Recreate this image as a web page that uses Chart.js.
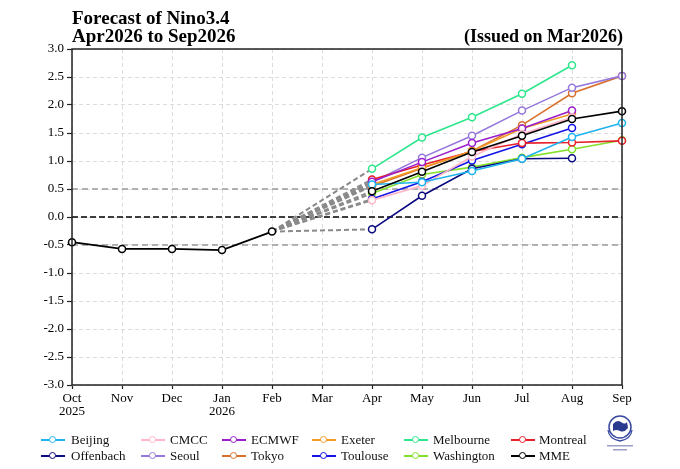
<!DOCTYPE html>
<html>
<head>
<meta charset="utf-8">
<script src="https://cdn.jsdelivr.net/npm/chart.js@4.4.1/dist/chart.umd.min.js"></script>
<style>
  body { margin: 0; background: #fff; }
  #wrap { position: relative; width: 680px; height: 469px; overflow: hidden; }
  #chart { position: absolute; left: 0; top: 0; }
  .title { position: absolute; font-family: "Liberation Serif", serif; font-weight: bold;
           font-size: 19px; line-height: 18px; color: #000; white-space: nowrap; }
  .lg { position: absolute; font-family: "Liberation Serif", serif; font-size: 13px;
        line-height: 14px; color: #111; white-space: nowrap; }
  .mk { position: absolute; width: 24px; height: 10px; }
  .mk .ln { position: absolute; left: 0; top: 4px; width: 24px; height: 2px; }
  .mk .dot { position: absolute; left: 8px; top: 1px; width: 5px; height: 5px;
             border-radius: 50%; background: #fff; border: 1.6px solid; }
</style>
</head>
<body>
<div id="wrap">
  <canvas id="chart" width="680" height="469"></canvas>
  <div class="title" style="left:72px; top:9px;">Forecast of Nino3.4</div>
  <div class="title" style="left:72px; top:27px;">Apr2026 to Sep2026</div>
  <div class="title" style="right:57px; top:27px; font-size:18px;">(Issued on Mar2026)</div>
  <div id="legend"></div>
  <svg style="position:absolute; left:603px; top:410px;" width="34" height="46" viewBox="0 0 34 46">
    <circle cx="17" cy="17" r="11" fill="#fff" stroke="#3a4aa0" stroke-width="1.5"/>
    <path d="M10 14 q4 -5 8 -2 q4 3 6 0 l1 6 q-4 5 -8 3 q-4 -2 -7 0 z" fill="#2a3a90"/>
    <path d="M5 20 q1 9 12 11 M29 20 q-1 9 -12 11" fill="none" stroke="#3a4aa0" stroke-width="1.3"/>
    <rect x="4" y="35" width="26" height="1.5" fill="#9aa0c8"/>
    <rect x="10" y="39" width="14" height="1.5" fill="#9aa0c8"/>
  </svg>
</div>
<script>
// months on the x axis
const months = ['Oct', 'Nov', 'Dec', 'Jan', 'Feb', 'Mar', 'Apr', 'May', 'Jun', 'Jul', 'Aug', 'Sep'];
const years = ['2025', '', '', '2026', '', '', '', '', '', '', '', ''];
const yTicks = [-3.0, -2.5, -2.0, -1.5, -1.0, -0.5, 0.0, 0.5, 1.0, 1.5, 2.0, 2.5, 3.0];

// observed Oct2025..Feb2026
const observed = [-0.45, -0.57, -0.57, -0.59, -0.26];

// forecasts, starting at Apr2026
const beijing    = [0.58, 0.62, 0.82, 1.04, 1.43, 1.68];
const cmcc       = [0.30, 0.56, 1.08, 1.48, 1.78];
const ecmwf      = [0.63, 0.98, 1.32, 1.58, 1.90];
const exeter     = [0.58, 0.88, 1.18, 1.58, 1.84];
const melbourne  = [0.86, 1.42, 1.78, 2.20, 2.71];
const montreal   = [0.67, 0.93, 1.17, 1.32, 1.33, 1.36];
const offenbach  = [-0.22, 0.38, 0.86, 1.04, 1.05];
const seoul      = [0.62, 1.06, 1.45, 1.90, 2.31, 2.52];
const tokyo      = [0.55, 0.87, 1.18, 1.64, 2.21, 2.52];
const toulouse   = [0.32, 0.63, 1.01, 1.30, 1.59];
const washington = [0.42, 0.76, 0.89, 1.06, 1.21, 1.37];
const mme        = [0.46, 0.81, 1.16, 1.45, 1.75, 1.89];

const models = [
  { name: 'Beijing',    color: '#1fb4ee', data: beijing },
  { name: 'CMCC',       color: '#ffb6c8', data: cmcc },
  { name: 'ECMWF',      color: '#9a1ecb', data: ecmwf },
  { name: 'Exeter',     color: '#f39a24', data: exeter },
  { name: 'Melbourne',  color: '#2ee68c', data: melbourne },
  { name: 'Montreal',   color: '#e8202a', data: montreal },
  { name: 'Offenbach',  color: '#0b0b80', data: offenbach },
  { name: 'Seoul',      color: '#9678dc', data: seoul },
  { name: 'Tokyo',      color: '#d9712e', data: tokyo },
  { name: 'Toulouse',   color: '#1414e6', data: toulouse },
  { name: 'Washington', color: '#84e02a', data: washington },
  { name: 'MME',        color: '#000000', data: mme }
];

const legendCols = [
  { mark: 41, text: 71 }, { mark: 141, text: 170 }, { mark: 222, text: 251 },
  { mark: 312, text: 341 }, { mark: 404, text: 433 }, { mark: 511, text: 539 }
];

const aprIndex = months.indexOf('Apr');
const febIndex = months.indexOf('Feb');

function pad(values, start) {
  const out = new Array(months.length).fill(null);
  values.forEach(function (v, i) { out[start + i] = v; });
  return out;
}

const datasets = [];

datasets.push({
  label: 'Observed',
  data: pad(observed, 0),
  borderColor: '#000',
  borderWidth: 1.8,
  pointRadius: 3.5,
  pointBorderWidth: 1.5,
  pointBackgroundColor: '#fff',
  pointBorderColor: '#000',
  order: 0
});

models.forEach(function (m, i) {
  datasets.push({
    label: m.name,
    data: pad(m.data, aprIndex),
    borderColor: m.color,
    borderWidth: 1.6,
    pointRadius: 3.5,
    pointBorderWidth: 1.5,
    pointBackgroundColor: '#fff',
    pointBorderColor: m.color,
    order: m.name === 'MME' ? 1 : 2 + i
  });
  // dashed link from the last observation to the first forecast month
  const link = new Array(months.length).fill(null);
  link[febIndex] = observed[febIndex];
  link[aprIndex] = m.data[0];
  datasets.push({
    label: m.name + ' link',
    data: link,
    spanGaps: true,
    borderColor: '#8a8a8a',
    borderWidth: 2,
    borderDash: [5, 3],
    pointRadius: 0,
    order: 30 + i
  });
});

const refLines = [
  { value: 0.5, color: '#9a9a9a', dash: [6, 4] },
  { value: -0.5, color: '#9a9a9a', dash: [6, 4] },
  { value: 0.0, color: '#000', dash: [6, 3] }
];

const framePlugin = {
  id: 'frame',
  beforeDatasetsDraw(chart) {
    const ctx = chart.ctx, a = chart.chartArea, y = chart.scales.y;
    ctx.save();
    refLines.forEach(function (r) {
      const py = y.getPixelForValue(r.value);
      ctx.strokeStyle = r.color;
      ctx.lineWidth = 1.5;
      ctx.setLineDash(r.dash);
      ctx.beginPath();
      ctx.moveTo(a.left, py);
      ctx.lineTo(a.right, py);
      ctx.stroke();
    });
    ctx.restore();
  },
  afterDraw(chart) {
    const ctx = chart.ctx, a = chart.chartArea;
    ctx.save();
    ctx.strokeStyle = '#222';
    ctx.lineWidth = 1.5;
    ctx.strokeRect(a.left, a.top, a.right - a.left, a.bottom - a.top);
    ctx.restore();
  }
};

const tickFont = { family: '"Liberation Serif", serif', size: 13, lineHeight: 1.0 };

new Chart(document.getElementById('chart'), {
  type: 'line',
  data: {
    labels: months.map(function (m, i) { return years[i] ? [m, years[i]] : m; }),
    datasets: datasets
  },
  options: {
    responsive: false,
    animation: false,
    layout: { padding: { top: 49, right: 58, bottom: 50, left: 0 } },
    plugins: { legend: { display: false }, tooltip: { enabled: false } },
    scales: {
      x: {
        type: 'category',
        offset: false,
        afterFit: function (s) { s.height = 34; },
        grid: { color: '#dddddd', lineWidth: 1, offset: false, tickLength: 4,
                tickColor: '#222', tickWidth: 1.2, tickBorderDash: [] },
        border: { display: false, dash: [4, 3] },
        ticks: { color: '#000', font: tickFont, maxRotation: 0, autoSkip: false, padding: 3 }
      },
      y: {
        min: -3, max: 3,
        afterFit: function (s) { s.width = 72; },
        afterBuildTicks: function (s) { s.ticks = yTicks.map(function (v) { return { value: v }; }); },
        grid: { color: '#dddddd', lineWidth: 1, tickLength: 5,
                tickColor: '#222', tickWidth: 1.2, tickBorderDash: [] },
        border: { display: false, dash: [4, 3] },
        ticks: { color: '#000', font: tickFont, padding: 3,
                 callback: function (v) { return Number(v).toFixed(1); } }
      }
    }
  },
  plugins: [framePlugin]
});

// legend, two rows of six
const legend = document.getElementById('legend');
models.forEach(function (m, i) {
  const col = legendCols[i % 6];
  const rowY = i < 6 ? 433 : 449;
  const mk = document.createElement('div');
  mk.className = 'mk';
  mk.style.left = col.mark + 'px';
  mk.style.top = (rowY + 2) + 'px';
  mk.innerHTML = '<div class="ln" style="background:' + m.color + '"></div>' +
                 '<div class="dot" style="border-color:' + m.color + '"></div>';
  legend.appendChild(mk);
  const tx = document.createElement('div');
  tx.className = 'lg';
  tx.style.left = col.text + 'px';
  tx.style.top = rowY + 'px';
  tx.textContent = m.name;
  legend.appendChild(tx);
});
</script>
</body>
</html>
